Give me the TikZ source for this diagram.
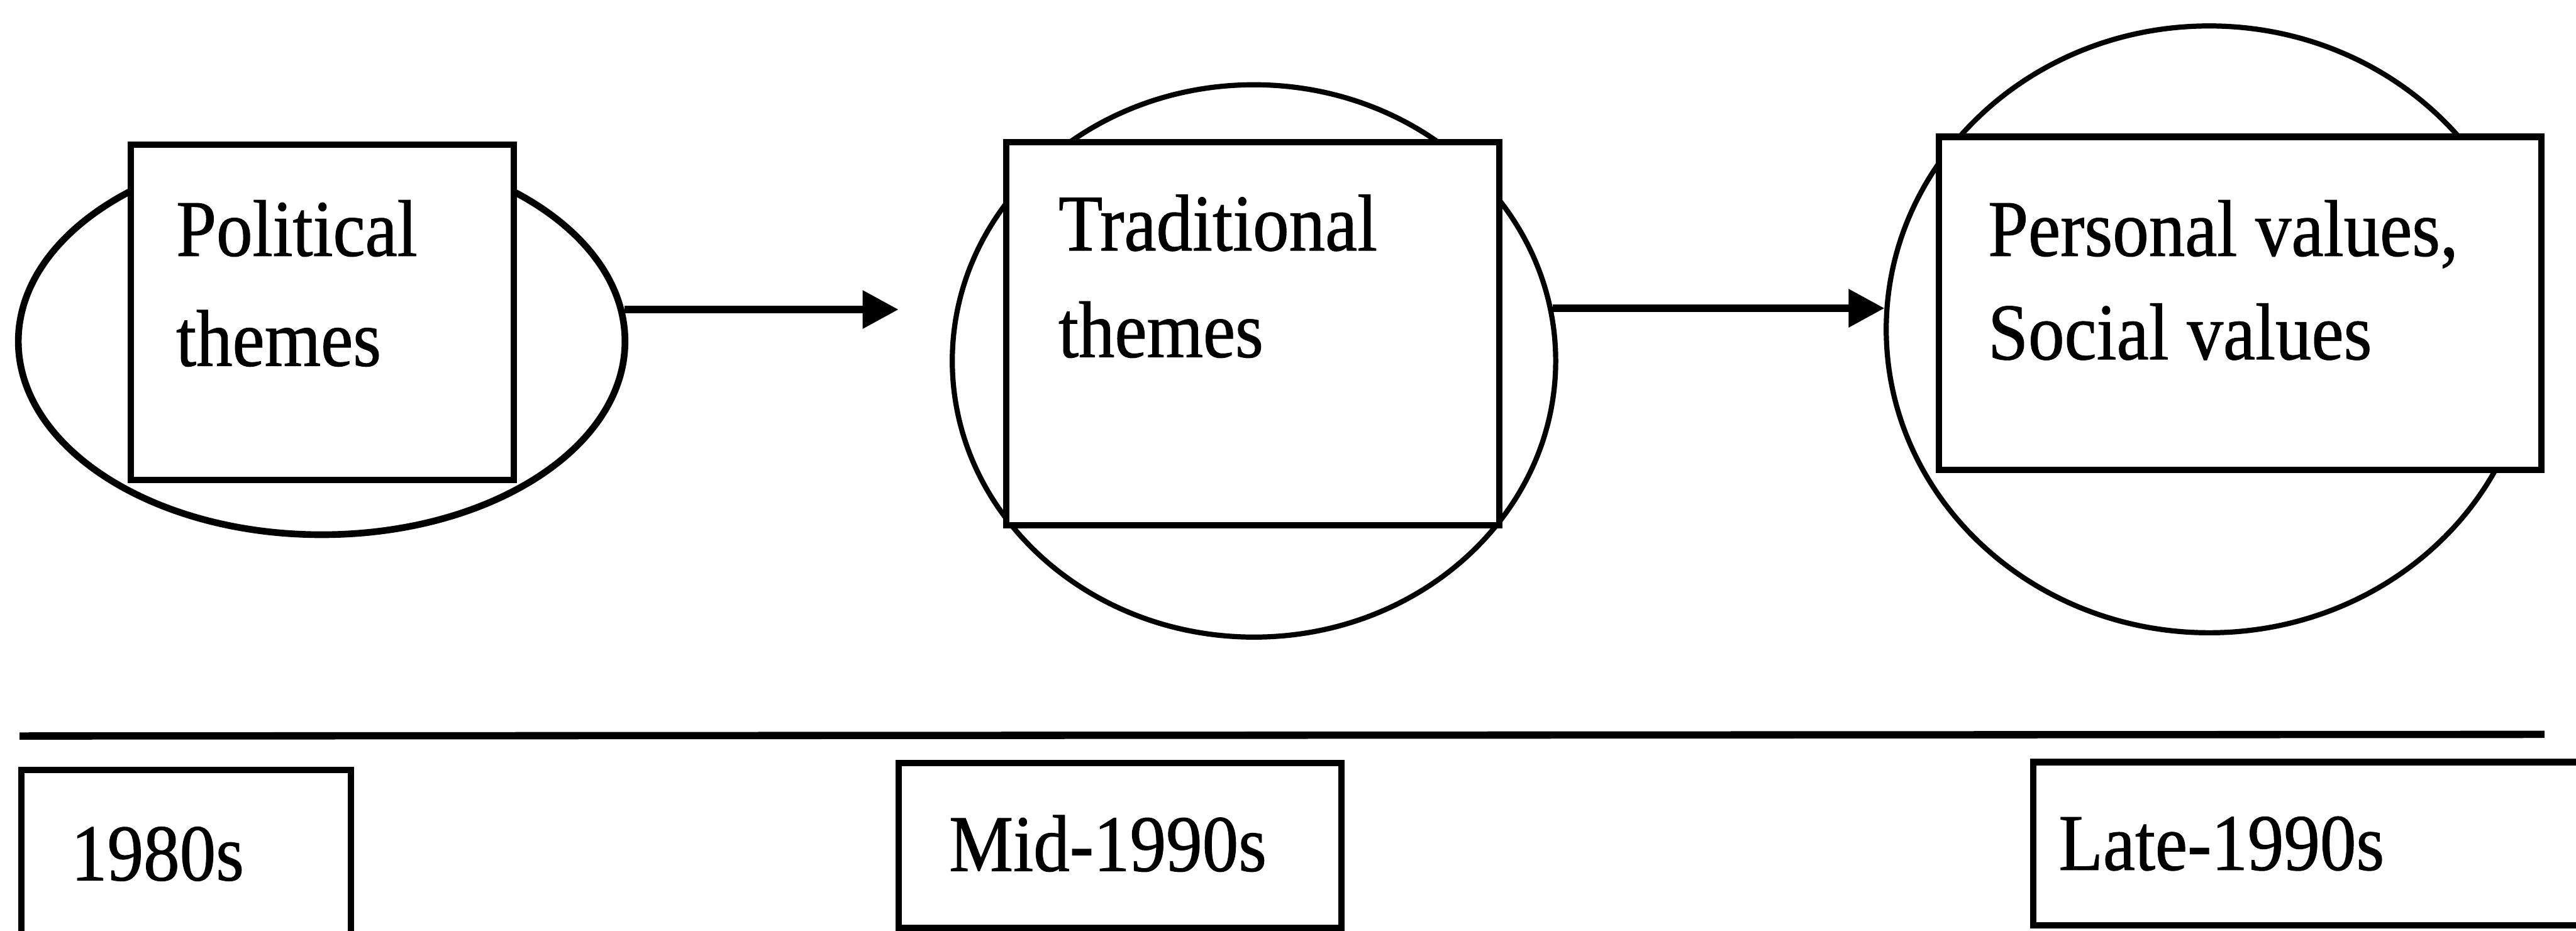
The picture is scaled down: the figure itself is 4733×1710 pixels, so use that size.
\documentclass[tikz,border=0pt]{standalone}
\usepackage{fontspec}
\setmainfont[FakeStretch=0.9,FakeBold=0.8]{Liberation Serif}
\usetikzlibrary{shapes.geometric,arrows.meta}
\begin{document}
\begin{tikzpicture}[x=0.01cm,y=-0.01cm,
  oval/.style={draw, ellipse, inner sep=0pt, line width=2.7pt},
  panel/.style={draw, rectangle, fill=white, inner sep=0pt, line width=3.3pt},
  lbl/.style={inner sep=0pt, anchor=base west, font=\fontsize{42pt}{50pt}\selectfont},
  arr/.style={line width=4pt, -{Triangle[length=0.66cm,width=0.67cm]}},
]
% page frame
\path[use as bounding box] (0,0) rectangle (4733,1710);
\clip (0,0) rectangle (4733,1710);

% outer ovals
\node[oval, line width=3.5pt, minimum width=11.14cm, minimum height=7.1cm] (e1) at (591,627) {};
\node[oval, minimum width=11.08cm, minimum height=10.14cm] (e2) at (2304,663) {};
\node[oval, minimum width=11.86cm, minimum height=11.14cm] (e3) at (4059,605) {};

% theme boxes
\node[panel, minimum width=7.04cm, minimum height=6.16cm] (b1) at (592,574) {};
\node[panel, minimum width=9.06cm, minimum height=7.04cm] (b2) at (2302,613) {};
\node[panel, minimum width=11.06cm, minimum height=6.11cm] (b3) at (4116,557) {};

\node[lbl] (t1a) at (323,470) {Political};
\node[lbl] (t1b) at (323,672) {themes};
\node[lbl] (t2a) at (1944,460) {Traditional};
\node[lbl] (t2b) at (1944,656) {themes};
\node[lbl] (t3a) at (3652,470) {Personal values,};
\node[lbl] (t3b) at (3652,660) {Social values};

% arrows between the stages
\coordinate (a1) at (1651,567);
\draw[arr] (e1.6.3) -- (a1 |- e1.6.3);
\draw[arr] (e2.10.3) -- (e3.176 |- e2.10.3);

% time axis
\coordinate (rl) at (36,1352);
\coordinate (rr) at (4675,1349);
\draw[line width=3.8pt] (rl) -- (rr);

% period boxes
\node[panel, minimum width=6.05cm, minimum height=3.85cm] (d1) at (342,1607) {};
\node[panel, minimum width=8.12cm, minimum height=3.03cm] (d2) at (2058,1553) {};
\node[panel, minimum width=10.63cm, minimum height=3.0cm] (d3) at (4268,1550) {};

\node[lbl] (p1) at (130,1617) {1980s};
\node[lbl] (p2) at (1743,1600) {Mid-1990s};
\node[lbl] (p3) at (3782,1598) {Late-1990s};
\end{tikzpicture}
\end{document}
